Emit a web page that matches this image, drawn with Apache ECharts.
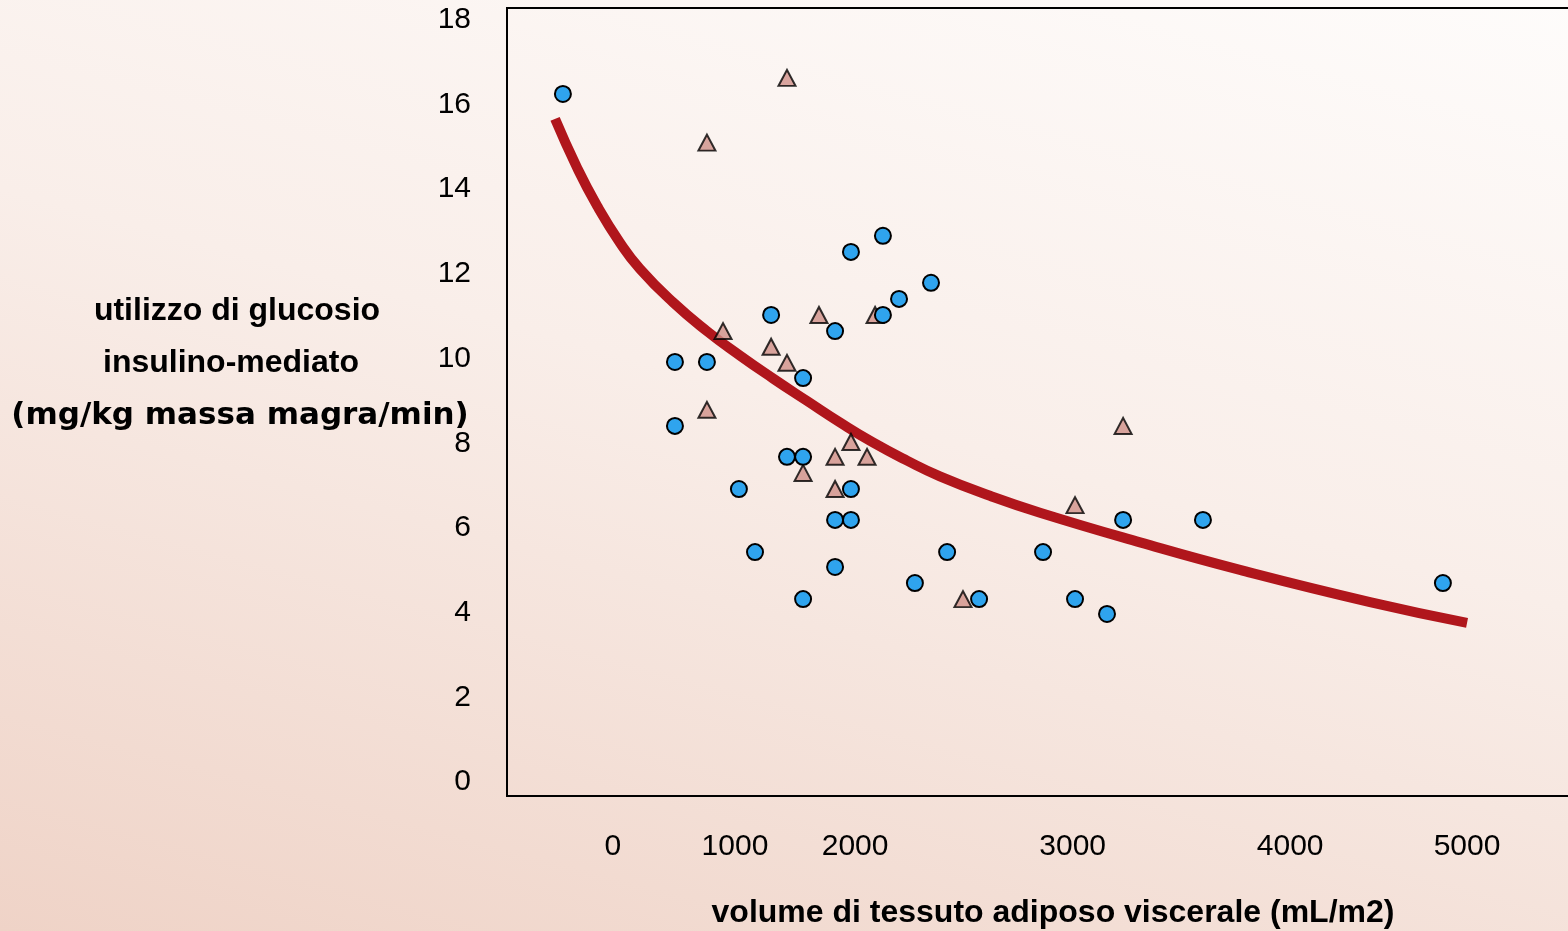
<!DOCTYPE html>
<html>
<head>
<meta charset="utf-8">
<script src="https://cdn.jsdelivr.net/npm/echarts@6/dist/echarts.min.js"></script>
<style>
  html, body { margin: 0; padding: 0; }
  #chart {
    width: 1568px;
    height: 931px;
    background: linear-gradient(195deg, #fefcfb 0%, #f9eee9 45%, #efd3c7 100%);
  }
</style>
</head>
<body>
<div id="chart"></div>
<script>
// x tick labels sit where the original slide placed them
var xTickValues = [887, 1448, 2000, 3000, 4000, 4813];
var xTickLabels = ['0', '1000', '2000', '3000', '4000', '5000'];
var yTickValues = [0, 2, 4, 6, 8, 10, 12, 14, 16, 18];

// blue circles [volume, glucose use]
var circles = [
    [657, 16.25], [1172, 9.92], [1319, 9.92], [1172, 8.41], [1466, 6.92],
    [1540, 5.43], [1614, 11.03], [1687, 7.68], [1761, 7.68], [1761, 9.54],
    [1761, 4.32], [1908, 10.65], [1908, 6.19], [1908, 5.08], [1981, 6.19],
    [1981, 6.92], [1981, 12.52], [2128, 12.90], [2128, 11.03], [2202, 11.41],
    [2349, 11.79], [2275, 4.70], [2423, 5.43], [2570, 4.32], [2864, 5.43],
    [3011, 4.32], [3158, 3.97], [3232, 6.19], [3599, 6.19], [4702, 4.70]
];

// triangles
var triangles = [
    [1687, 16.63], [1319, 15.10], [1393, 10.65], [1614, 10.28], [1687, 9.90],
    [1319, 8.79], [1834, 11.03], [2092, 11.03], [1981, 8.03], [1908, 7.68],
    [2055, 7.68], [1761, 7.30], [1908, 6.92], [2496, 4.32], [3011, 6.54],
    [3232, 8.41]
];

// fitted curve, points
var curve = [
    [621, 15.66], [722, 14.51], [814, 13.61], [919, 12.74], [1011, 12.12],
    [1163, 11.33], [1319, 10.65], [1471, 10.07], [1623, 9.53], [1779, 9.00],
    [1931, 8.49], [2082, 8.02], [2239, 7.59], [2390, 7.22], [2620, 6.76],
    [2850, 6.36], [3310, 5.66], [3769, 5.01], [4367, 4.25], [4813, 3.76]
];

var chart = echarts.init(document.getElementById('chart'));

var option = {
    backgroundColor: 'transparent',
    animation: false,
    grid: {
        left: 507,
        right: -5,
        top: 8,
        bottom: 135,
        outerBoundsMode: 'none',
        show: true,
        borderColor: '#000',
        borderWidth: 2,
        backgroundColor: 'transparent'
    },
    xAxis: {
        type: 'value',
        min: 400,
        max: 5300,
        axisLine: { show: false },
        axisTick: { show: false },
        splitLine: { show: false },
        axisLabel: {
            customValues: xTickValues,
            formatter: function (v) {
                var i = xTickValues.indexOf(v);
                return i >= 0 ? xTickLabels[i] : '';
            },
            margin: 36,
            fontSize: 30,
            fontFamily: 'Liberation Sans, Arial, sans-serif',
            color: '#000'
        }
    },
    yAxis: {
        type: 'value',
        min: -0.33,
        max: 18.28,
        axisLine: { show: false },
        axisTick: { show: false },
        splitLine: { show: false },
        axisLabel: {
            customValues: yTickValues,
            margin: 36,
            fontSize: 30,
            fontFamily: 'Liberation Sans, Arial, sans-serif',
            color: '#000'
        }
    },
    graphic: [
        {
            type: 'text', x: 237, y: 311,
            style: {
                text: 'utilizzo di glucosio', align: 'center', verticalAlign: 'middle',
                font: 'bold 32px "Liberation Sans", Arial, sans-serif', fill: '#000'
            }
        },
        {
            type: 'text', x: 231, y: 363,
            style: {
                text: 'insulino-mediato', align: 'center', verticalAlign: 'middle',
                font: 'bold 32px "Liberation Sans", Arial, sans-serif', fill: '#000'
            }
        },
        {
            type: 'text', x: 240, y: 416,
            style: {
                text: '(mg/kg massa magra/min)', align: 'center', verticalAlign: 'middle',
                font: 'bold 31px "DejaVu Sans", sans-serif', fill: '#000'
            }
        },
        {
            type: 'text', x: 1053, y: 913,
            style: {
                text: 'volume di tessuto adiposo viscerale (mL/m2)', align: 'center', verticalAlign: 'middle',
                font: 'bold 32px "Liberation Sans", Arial, sans-serif', fill: '#000'
            }
        }
    ],
    series: [
        {
            name: 'curve',
            type: 'line',
            data: curve,
            smooth: 0.5,
            showSymbol: false,
            lineStyle: { color: '#b0161c', width: 10, cap: 'butt' },
            z: 2
        },
        {
            name: 'triangles',
            type: 'scatter',
            data: triangles,
            symbol: 'triangle',
            symbolSize: [17, 16],
            itemStyle: { color: '#d09088', borderColor: '#000', borderWidth: 2 },
            z: 3
        },
        {
            name: 'circles',
            type: 'scatter',
            data: circles,
            symbol: 'circle',
            symbolSize: 16,
            itemStyle: { color: '#2fa4ee', borderColor: '#000', borderWidth: 2, opacity: 1 },
            z: 4
        }
    ]
};

chart.setOption(option);
</script>
</body>
</html>
